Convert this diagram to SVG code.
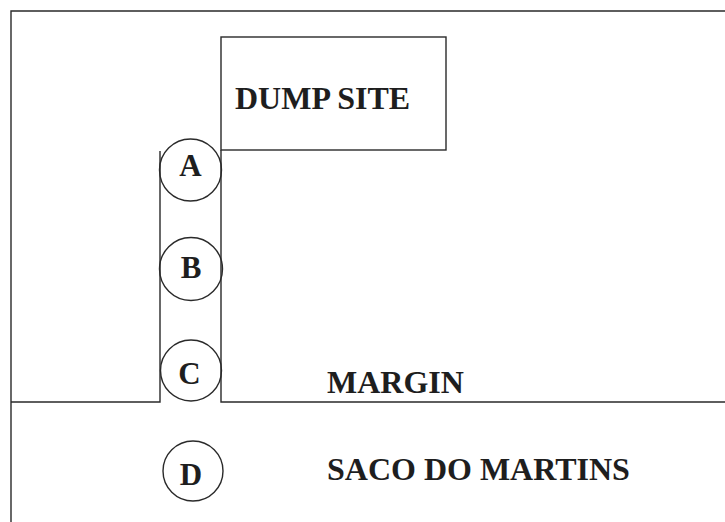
<svg xmlns="http://www.w3.org/2000/svg" width="725" height="522" viewBox="0 0 725 522">
<style>
.ln{fill:none;stroke:#2a2a2a;stroke-width:1.4}
.t{font-family:"Liberation Serif","Times New Roman",serif;font-weight:bold;fill:#1e1e1e}
.lbl{font-size:32px}
.ltr{font-size:31px;text-anchor:middle}
</style>
<rect width="725" height="522" fill="#fff"/>
<g id="frame">
<path class="ln" d="M11,522 V11 H725"/>
</g>
<g id="dump-site">
<rect class="ln" x="221" y="37" width="225" height="113"/>
<text class="t lbl" x="235" y="109" font-size="33">DUMP SITE</text>
</g>
<g id="connectors">
<path class="ln" d="M11,402 H160 V151"/>
<path class="ln" d="M221,150 V402 H725"/>
</g>
<g id="node-A">
<circle class="ln" cx="190.5" cy="170" r="31"/>
<text class="t ltr" x="190.5" y="176">A</text>
</g>
<g id="node-B">
<circle class="ln" cx="191" cy="269" r="31.5"/>
<text class="t ltr" x="191" y="278">B</text>
</g>
<g id="node-C">
<circle class="ln" cx="191" cy="370.5" r="30.5"/>
<text class="t ltr" x="189.5" y="384">C</text>
</g>
<g id="node-D">
<circle class="ln" cx="193" cy="471" r="30"/>
<text class="t ltr" x="191" y="485">D</text>
</g>
<g id="margin-label">
<text class="t lbl" x="327" y="393">MARGIN</text>
</g>
<g id="saco-label">
<text class="t lbl" x="327" y="480" font-size="33">SACO DO MARTINS</text>
</g>
</svg>
